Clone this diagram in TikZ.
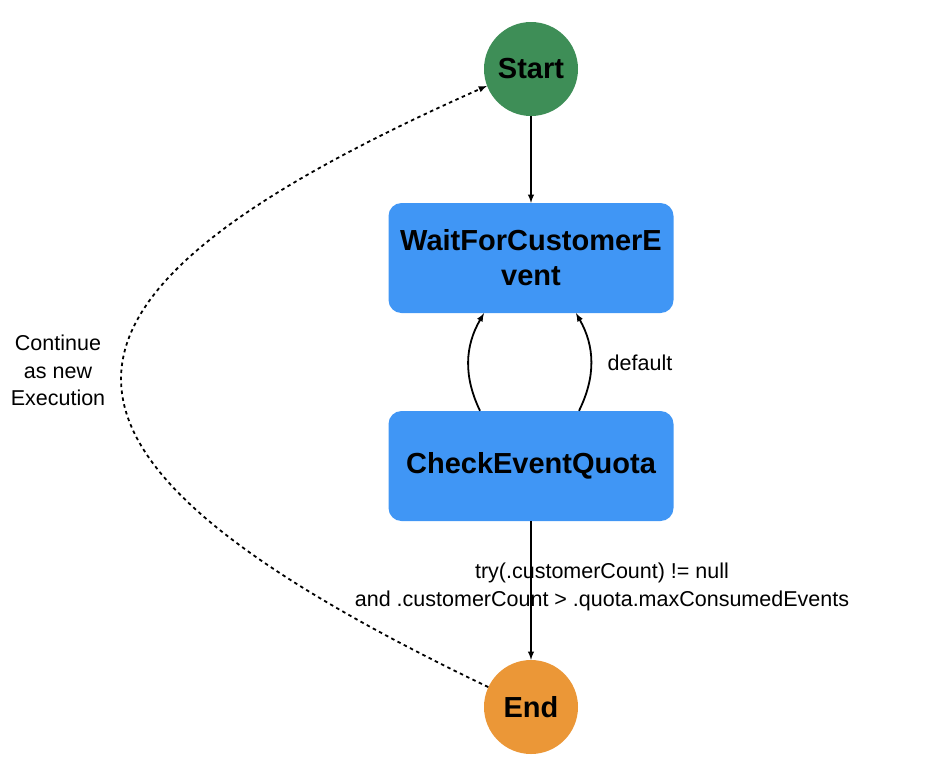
\documentclass[tikz,border=0pt]{standalone}
\usepackage{fontspec}
\setmainfont{Liberation Sans}
\usetikzlibrary{arrows,positioning}
\definecolor{startgreen}{RGB}{62,142,87}
\definecolor{stateblue}{RGB}{64,150,245}
\definecolor{endorange}{RGB}{235,151,55}

\begin{document}
\begin{tikzpicture}[x=1pt,y=-1pt,
  circ/.style={circle,minimum size=94pt,inner sep=0pt,font=\fontsize{29}{35}\selectfont\bfseries},
  statebox/.style={rectangle,rounded corners=13pt,fill=stateblue,minimum width=285pt,minimum height=110pt,align=center,font=\fontsize{29}{35}\selectfont\bfseries},
  lbl/.style={align=center,font=\fontsize{21.5}{27.5}\selectfont},
  trans/.style={->,>=latex,line width=1.8pt}]
\useasboundingbox (0,0) rectangle (950,780);
\node[circ,fill=startgreen] (start) at (531,69) {Start};
\node[statebox] (wait) at (531,258) {WaitForCustomerE\\vent};
\node[statebox] (check) at (531,466) {CheckEventQuota};
\node[circ,fill=endorange] (endst) at (531,707) {End};
%
\node[lbl] (deflbl) at (640,363) {default};
\node[lbl] (condlbl) at (602,587) {try(.customerCount) != null\\and .customerCount > .quota.maxConsumedEvents};
\node[lbl] (contlbl) at (58,370.5) {Continue\\as new\\Execution};
%
\draw[trans] (start) -- (wait);
\draw[trans] ([xshift=-51pt]check.north) to[bend left=28] ([xshift=-47pt]wait.south);
\draw[trans] ([xshift=48pt]check.north) to[bend right=28] ([xshift=45pt]wait.south);
\draw[trans] (check) -- (endst);
\draw[trans,dash pattern=on 3.5pt off 3.5pt] (endst.155.5) .. controls (0,453) and (0,302) .. (start.201);
\end{tikzpicture}
\end{document}
